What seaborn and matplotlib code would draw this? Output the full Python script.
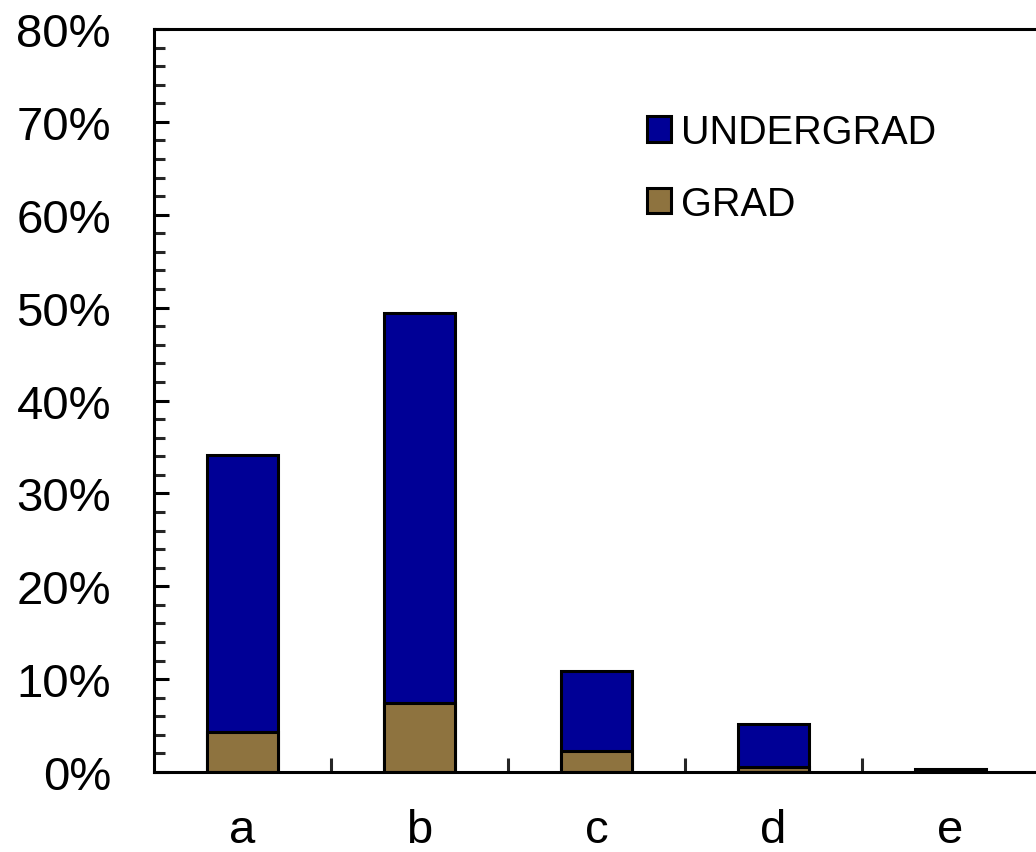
import matplotlib
matplotlib.use("Agg")
import matplotlib.pyplot as plt
import seaborn as sns
import pandas as pd
import numpy as np
from matplotlib.ticker import MultipleLocator, PercentFormatter
from matplotlib.patches import Patch

categories = ["a", "b", "c", "d", "e"]
undergrad = [29.8, 42.0, 8.6, 4.7, 0.3]
grad = [4.3, 7.4, 2.3, 0.5, 0.0]

sns.set_theme(style="white")
plt.rcParams['font.family'] = ['Liberation Sans', 'DejaVu Sans']
plt.rcParams['text.color'] = 'black'

navy = "#000096"
brown = "#8E733F"

total = [u + g for u, g in zip(undergrad, grad)]
df = pd.DataFrame({"cat": categories, "total": total, "grad": grad})

W, H = 1036, 853
fig = plt.figure(figsize=(W / 100, H / 100), dpi=100)
ax = fig.add_axes([0.1486, 0.0938, 0.8544, 0.871])

lw = 2.2
sns.barplot(data=df, x="cat", y="total", color=navy, width=0.4,
            edgecolor="black", linewidth=lw, saturation=1, ax=ax)
sns.barplot(data=df, x="cat", y="grad", color=brown, width=0.4,
            edgecolor="black", linewidth=lw, saturation=1, ax=ax)

ax.set_xlim(-0.5, 4.5)
ax.set_ylim(0, 80)
ax.set_xlabel("")
ax.set_ylabel("")
ax.yaxis.set_major_locator(MultipleLocator(10))
ax.yaxis.set_minor_locator(MultipleLocator(2))
ax.yaxis.set_major_formatter(PercentFormatter(decimals=0))
ax.set_xticks(range(len(categories)))
ax.set_xticklabels(categories)
ax.set_xticks([0.5, 1.5, 2.5, 3.5], minor=True)

for s in ax.spines.values():
    s.set_color("black")
    s.set_linewidth(lw)

ax.tick_params(axis="y", which="major", direction="in", length=11, width=lw,
               labelsize=34, pad=31, left=True, colors="black")
ax.tick_params(axis="y", which="minor", direction="in", length=8, width=lw, left=True)
ax.tick_params(axis="x", which="major", length=0, labelsize=34, pad=26, colors="black")
ax.tick_params(axis="x", which="minor", direction="in", length=10, width=lw, bottom=True)

handles = [Patch(facecolor=navy, edgecolor="black", linewidth=lw, label="UNDERGRAD"),
           Patch(facecolor=brown, edgecolor="black", linewidth=lw, label="GRAD")]
fig.legend(handles=handles, loc="upper left", bbox_to_anchor=(647 / W, 1 - 114 / H),
           frameon=False, fontsize=28.5, handlelength=0.6, handleheight=0.6,
           handletextpad=0.25, labelspacing=0.85, borderaxespad=0, borderpad=0,
           labelcolor="black")

fig.savefig("out.png", dpi=100)
